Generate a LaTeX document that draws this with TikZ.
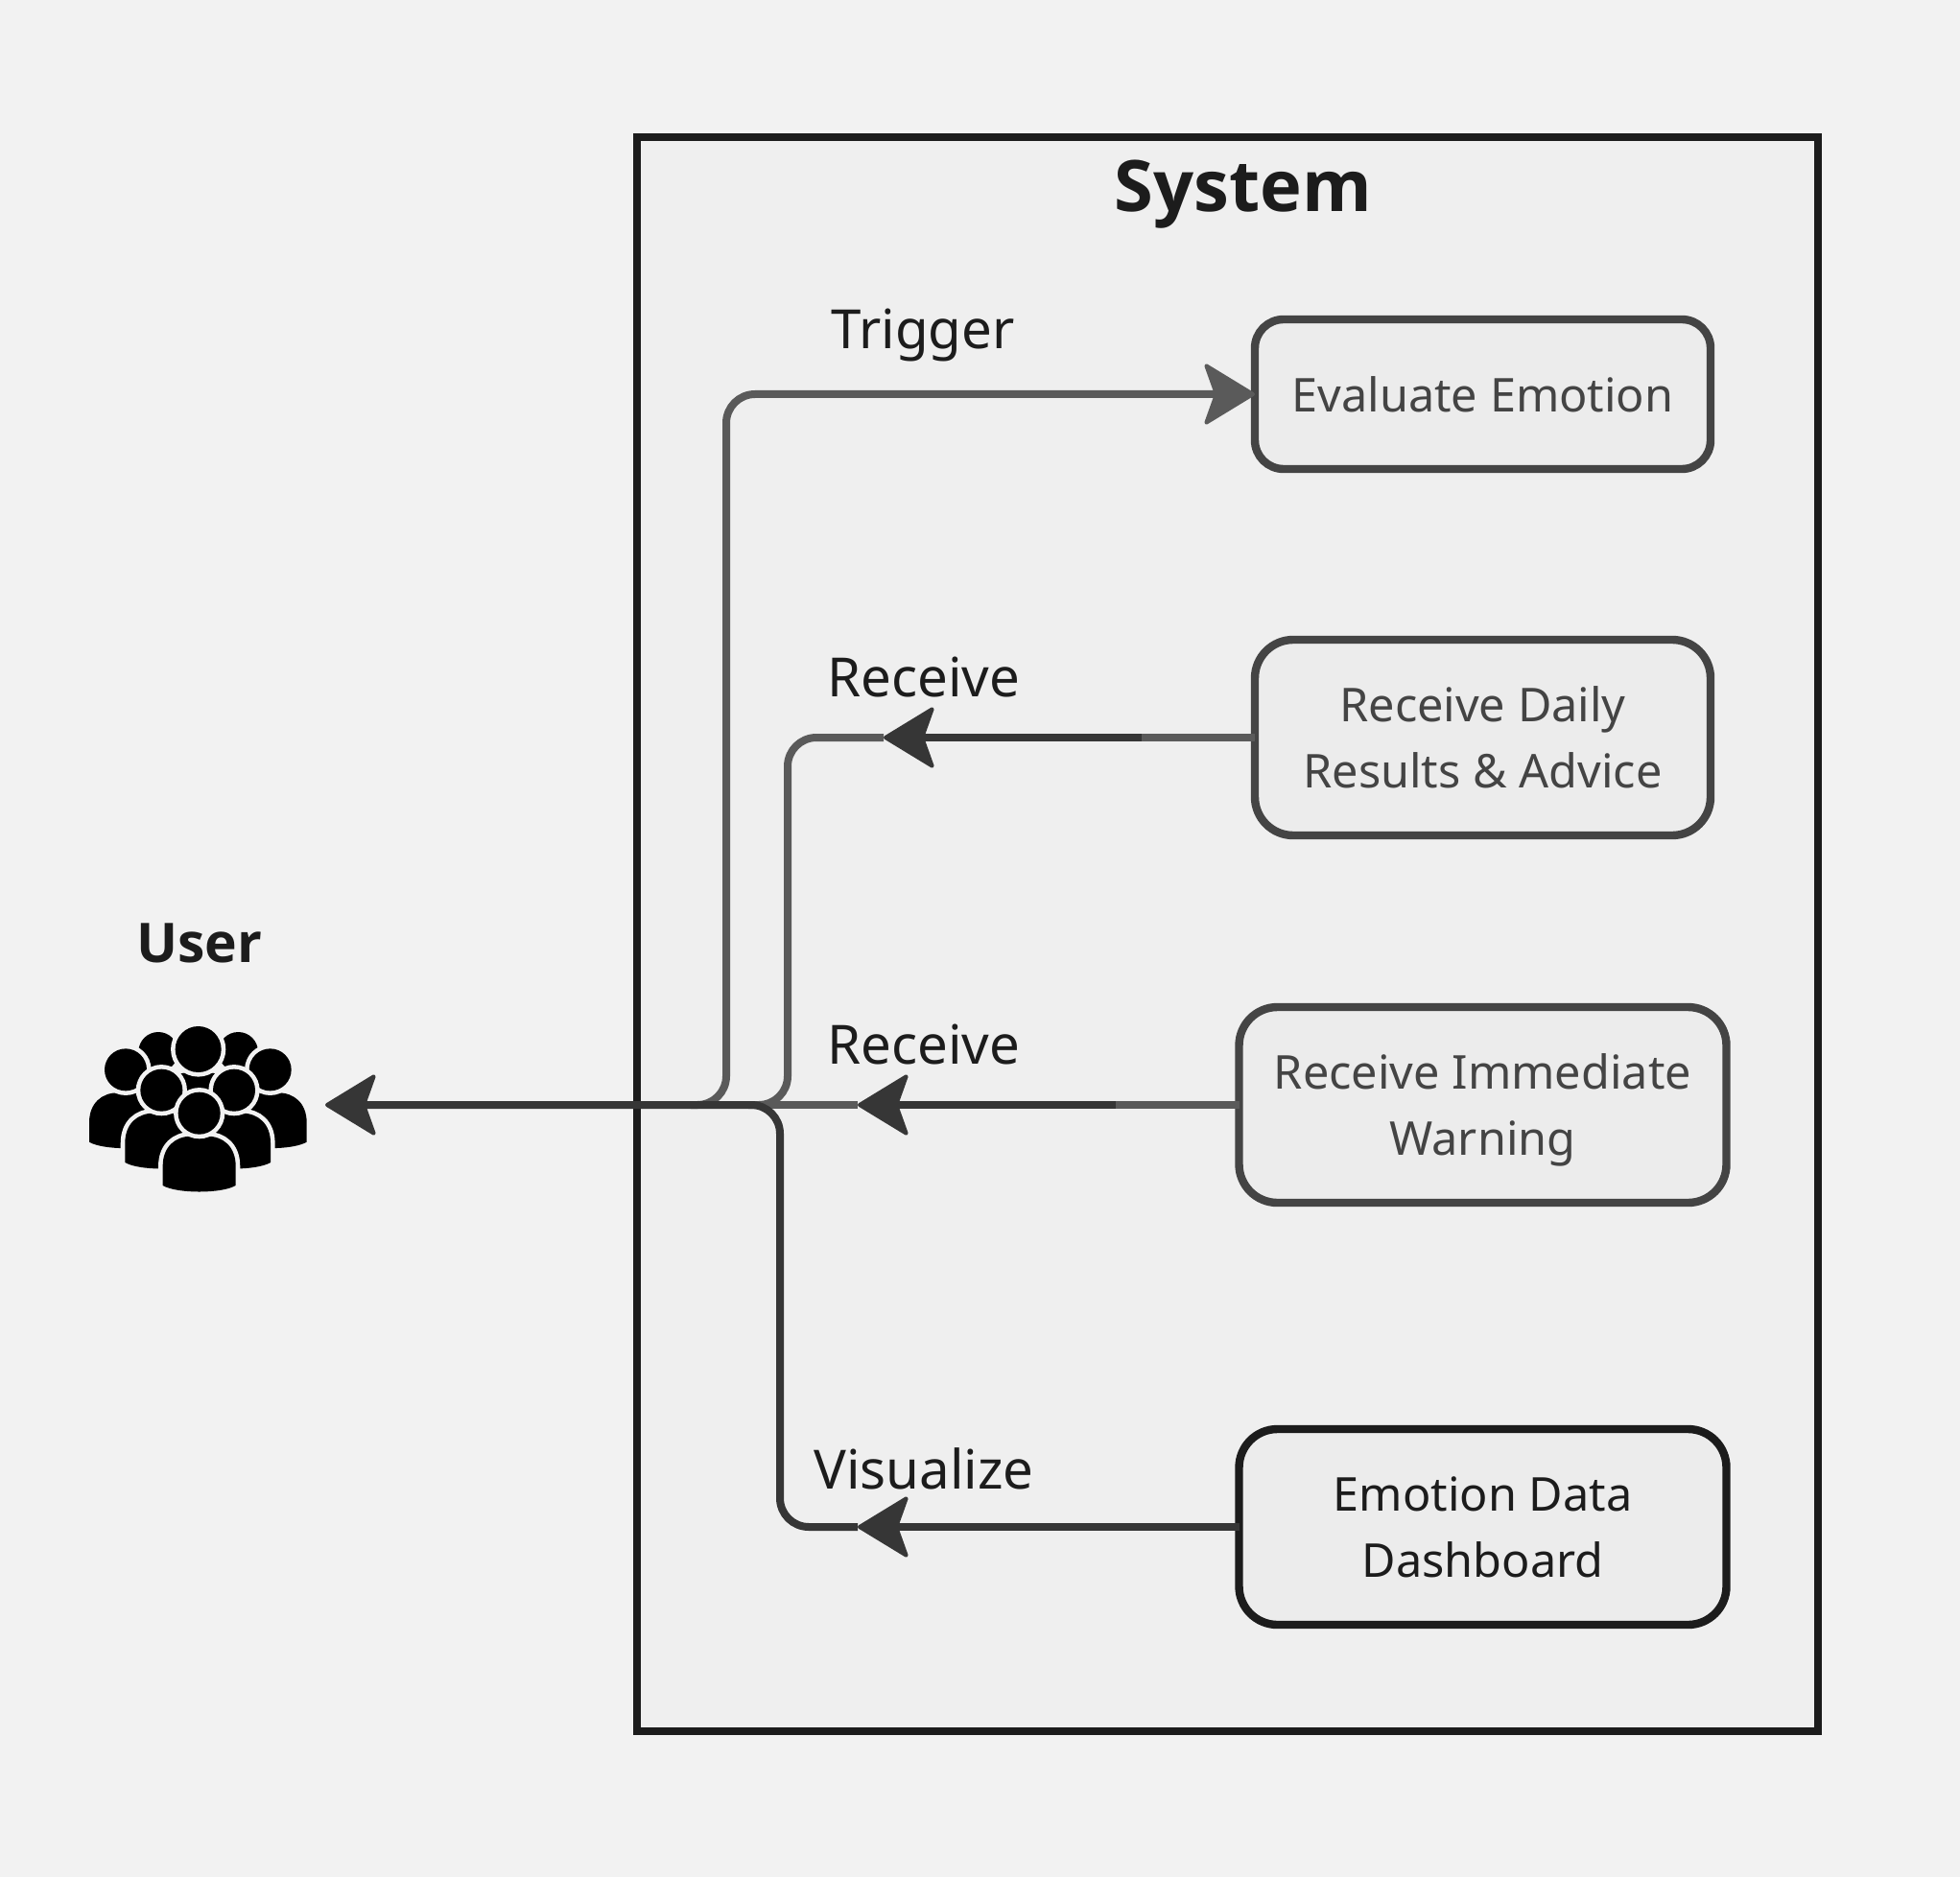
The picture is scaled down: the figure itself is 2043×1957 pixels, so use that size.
\documentclass[tikz,border=0pt]{standalone}
\usepackage{fontspec}
\setmainfont{Noto Sans}
\newfontfamily\heavyfont{Open Sans}[BoldFont={Open Sans Bold}]
\usetikzlibrary{arrows.meta}
\definecolor{pagebg}{HTML}{F2F2F2}
\definecolor{framefill}{HTML}{EFEFEF}
\definecolor{boxfill}{HTML}{ECECEC}
\definecolor{inkdark}{HTML}{1C1C1C}
\definecolor{inkmid}{HTML}{444444}
\definecolor{linedark}{HTML}{363636}
\definecolor{linegray}{HTML}{5A5A5A}
\newcommand{\personhead}[3]{\path[preaction={draw=pagebg,line width=4.6pt},fill=black] (#1,#2) circle[radius=#3];}
\newcommand{\personfull}[3]{%
  \path[preaction={draw=pagebg,line width=4.6pt},fill=black]
    ({#1-114},{#2+226}) -- ({#1-114},{#2+165})
    .. controls ({#1-114},{#2+105}) and ({#1-75},{#2+72}) .. ({#1-25},{#2+72})
    -- ({#1+25},{#2+72})
    .. controls ({#1+75},{#2+72}) and ({#1+114},{#2+105}) .. ({#1+114},{#2+165})
    -- ({#1+114},{#2+226})
    .. controls ({#1+70},{#2+252}) and ({#1-70},{#2+252}) .. ({#1-114},{#2+226}) -- cycle;
  \personhead{#1}{#2}{#3}}
\tikzset{
  every node/.style={inner sep=0pt,outer sep=0pt},
  labeltext/.style={text=inkdark,font=\fontsize{28.2}{32}\selectfont},
  boxbase/.style={draw=inkmid,fill=boxfill,line width=4.2pt,rounded corners=15pt,align=center,
    text=inkmid,font=\fontsize{24.3}{34.5}\selectfont},
  boxdark/.style={boxbase,draw=inkdark,text=inkdark},
  conn/.style={line width=4pt,rounded corners=15pt},
  graylink/.style={conn,draw=linegray},
  darklink/.style={conn,draw=linedark},
  headdark/.style={-{Stealth[length=28pt,width=34pt,inset=6pt,round,line width=2pt]}},
}
\begin{document}
\begin{tikzpicture}[x=0.5pt,y=-0.5pt]
\useasboundingbox[fill=pagebg] (0,0) rectangle (2043,1957);
\node[draw=inkdark,fill=framefill,line width=4pt,minimum width=615.5pt,minimum height=830.5pt] (sys) at (1279.5,974) {};
\node[text=inkdark,font=\heavyfont\bfseries\fontsize{37}{42}\selectfont] (systitle) at (1296,203) {System};
\node[text=inkdark,font=\heavyfont\bfseries\fontsize{28.5}{32}\selectfont] (usertitle) at (208,983) {User};

\node[boxbase,minimum width=237.5pt,minimum height=78pt] (eval) at (1545.5,411) {Evaluate Emotion};
\node[boxbase,rounded corners=20pt,minimum width=237.5pt,minimum height=102pt] (daily) at (1545.5,769) {Receive Daily\\Results \& Advice};
\node[boxbase,rounded corners=20pt,minimum width=254pt,minimum height=102pt,text depth=0pt] (warn) at (1545.5,1152) {Receive Immediate\\Warning};
\node[boxdark,rounded corners=20pt,minimum width=254pt,minimum height=102pt] (dash) at (1545.5,1592) {Emotion Data\\Dashboard};

\node[labeltext] (ltrig) at (962,349) {Trigger};
\node[labeltext] (lrec1) at (963,706) {Receive};
\node[labeltext] (lrec2) at (963,1089) {Receive};
\node[labeltext] (lvis) at (963,1531) {Visualize};

\coordinate (usertip) at (339,1152);
\coordinate (trigstart) at (720,1152);
\coordinate (dailystart) at (780,1152);
\coordinate (warnstart) at (800,1152);
\coordinate (dailytip) at (921,769);
\coordinate (warntip) at (894,1152);
\coordinate (dashtip) at (894,1592);
\coordinate (dailyfade) at (1190,769);
\coordinate (warnfade) at (1163,1152);

% gray connector parts
\draw[graylink,-{Stealth[length=28pt,width=34pt,inset=6pt,round,line width=2pt]}]
  (trigstart) -- (757,1152) -- (757,411) -- (eval.west);
\draw[graylink] (dailystart) -- (821,1152) -- (821,769) -- (dailytip);
\draw[graylink] (warnstart) -- (warntip);

% dark connector parts
\draw[darklink,headdark] (daily.west) -- (dailytip);
\draw[linegray,line width=4pt] (daily.west) -- (dailyfade);
\draw[darklink,headdark] (warn.west) -- (warntip);
\draw[linegray,line width=4pt] (warn.west) -- (warnfade);
\draw[darklink,headdark] (dash.west) -- (dashtip);
\draw[darklink,headdark] (dashtip) -- (813,1592) -- (813,1152) -- (usertip);

% user icon: units are thirds of a pixel, offset to its place
\begin{scope}[shift={(60,920)},x=0.1666667pt,y=-0.1666667pt]
  \personhead{315}{530}{62}
  \personhead{565}{530}{62}
  \personfull{213}{586}{66}
  \personfull{665}{586}{66}
  \personfull{440}{522}{72}
  \personfull{325}{650}{66}
  \personfull{552}{650}{66}
  \personfull{443}{722}{66}
\end{scope}
\end{tikzpicture}
\end{document}
